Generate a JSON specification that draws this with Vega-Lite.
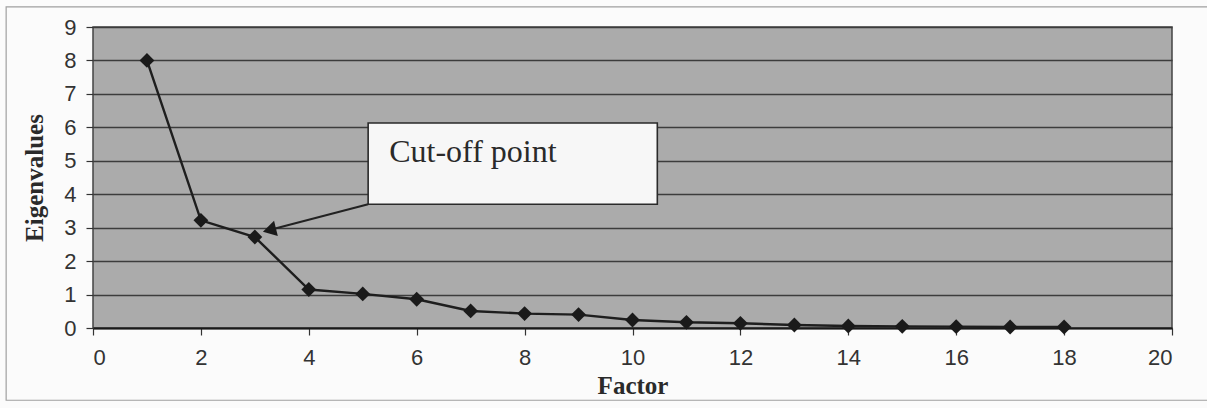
{
  "$schema": "https://vega.github.io/schema/vega-lite/v6.json",
  "width": 1079,
  "height": 301,
  "autosize": {"type": "none"},
  "padding": {"left": 93, "top": 27, "right": 35, "bottom": 80},
  "background": "#fbfbfb",
  "config": {
    "view": {"fill": "#ababab", "stroke": "#444444", "strokeWidth": 1.5},
    "axis": {
      "labelFont": "Liberation Sans",
      "labelFontSize": 22,
      "labelColor": "#333333",
      "titleFont": "Liberation Serif",
      "titleFontWeight": "bold",
      "titleFontSize": 25,
      "titleColor": "#2a2a2a",
      "tickColor": "#333333",
      "tickSize": 7,
      "tickWidth": 1.2,
      "labelOverlap": false
    },
    "axisX": {
      "tickCount": 10,
      "grid": false,
      "domainColor": "#1a1a1a",
      "domainWidth": 2,
      "labelPadding": 12,
      "titlePadding": 5
    },
    "axisY": {
      "tickCount": 9,
      "grid": true,
      "gridColor": "#3c3c3c",
      "gridWidth": 1.3,
      "domain": false,
      "labelPadding": 10,
      "titlePadding": 16
    }
  },
  "datasets": {
    "scree": [
      {"factor": 1, "eigenvalue": 8.0},
      {"factor": 2, "eigenvalue": 3.22},
      {"factor": 3, "eigenvalue": 2.72},
      {"factor": 4, "eigenvalue": 1.15},
      {"factor": 5, "eigenvalue": 1.02},
      {"factor": 6, "eigenvalue": 0.86},
      {"factor": 7, "eigenvalue": 0.51},
      {"factor": 8, "eigenvalue": 0.43},
      {"factor": 9, "eigenvalue": 0.4},
      {"factor": 10, "eigenvalue": 0.24},
      {"factor": 11, "eigenvalue": 0.17},
      {"factor": 12, "eigenvalue": 0.14},
      {"factor": 13, "eigenvalue": 0.09},
      {"factor": 14, "eigenvalue": 0.06},
      {"factor": 15, "eigenvalue": 0.05},
      {"factor": 16, "eigenvalue": 0.04},
      {"factor": 17, "eigenvalue": 0.03},
      {"factor": 18, "eigenvalue": 0.03}
    ],
    "callout": [
      {"x0": 5.1, "x1": 10.46, "y0": 3.7, "y1": 6.13, "tipx": 3.27, "tipy": 2.93, "tx": 5.49, "ty": 4.95, "label": "Cut-off point"}
    ]
  },
  "layer": [
    {
      "data": {"name": "scree"},
      "mark": {"type": "line", "color": "#1e1e1e", "strokeWidth": 2.4},
      "encoding": {
        "x": {
          "field": "factor", "type": "quantitative",
          "scale": {"domain": [0, 20], "nice": false},
          "axis": {"title": "Factor"}
        },
        "y": {
          "field": "eigenvalue", "type": "quantitative",
          "scale": {"domain": [0, 9], "nice": false},
          "axis": {"title": "Eigenvalues"}
        }
      }
    },
    {
      "data": {"values": [{}]},
      "mark": {"type": "rect", "fill": "transparent", "stroke": "#a0a0a0", "strokeWidth": 1.2, "clip": false},
      "encoding": {
        "x": {"datum": -1.61, "type": "quantitative"},
        "x2": {"datum": 21.2},
        "y": {"datum": 9.6, "type": "quantitative"},
        "y2": {"datum": -2.16}
      }
    },
    {
      "data": {"name": "scree"},
      "mark": {"type": "point", "shape": "diamond", "filled": true, "size": 220, "color": "#1a1a1a", "opacity": 1},
      "encoding": {
        "x": {"field": "factor", "type": "quantitative"},
        "y": {"field": "eigenvalue", "type": "quantitative"}
      }
    },
    {
      "data": {"name": "callout"},
      "mark": {"type": "rule", "color": "#222222", "strokeWidth": 2},
      "encoding": {
        "x": {"field": "x0", "type": "quantitative"},
        "y": {"field": "y0", "type": "quantitative"},
        "x2": {"field": "tipx"},
        "y2": {"field": "tipy"}
      }
    },
    {
      "data": {"name": "callout"},
      "mark": {"type": "point", "shape": "triangle-up", "filled": true, "size": 240, "angle": 256, "color": "#1a1a1a", "opacity": 1},
      "encoding": {
        "x": {"field": "tipx", "type": "quantitative"},
        "y": {"field": "tipy", "type": "quantitative"}
      }
    },
    {
      "data": {"name": "callout"},
      "mark": {"type": "rect", "fill": "#f7f7f7", "stroke": "#2a2a2a", "strokeWidth": 1.6},
      "encoding": {
        "x": {"field": "x0", "type": "quantitative"},
        "x2": {"field": "x1"},
        "y": {"field": "y0", "type": "quantitative"},
        "y2": {"field": "y1"}
      }
    },
    {
      "data": {"name": "callout"},
      "mark": {"type": "text", "font": "Liberation Serif", "fontSize": 32, "align": "left", "baseline": "alphabetic", "color": "#2a2a2a"},
      "encoding": {
        "x": {"field": "tx", "type": "quantitative"},
        "y": {"field": "ty", "type": "quantitative"},
        "text": {"field": "label"}
      }
    }
  ]
}
